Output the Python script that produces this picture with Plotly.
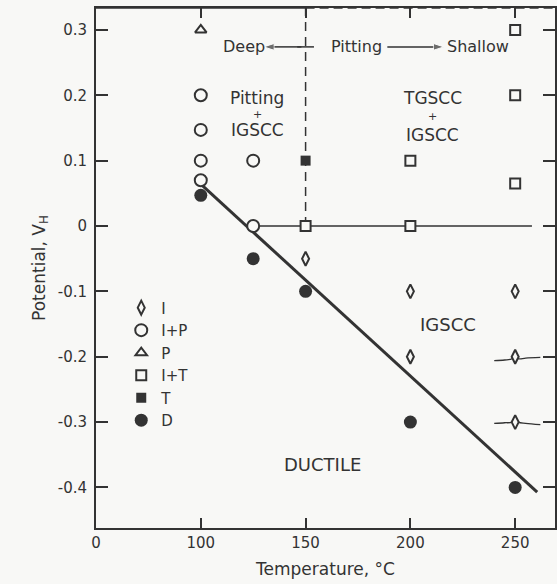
import plotly.graph_objects as go

# ---- data ----
I_x = [150, 200, 200, 250, 250, 250]
I_y = [-0.05, -0.10, -0.20, -0.10, -0.20, -0.30]
IP_x = [100, 100, 100, 100, 125, 125]
IP_y = [0.20, 0.147, 0.10, 0.07, 0.10, 0.0]
P_x = [100]
P_y = [0.30]
IT_x = [150, 200, 200, 250, 250, 250]
IT_y = [0.0, 0.10, 0.0, 0.30, 0.20, 0.065]
T_x = [150]
T_y = [0.10]
D_x = [100, 125, 150, 200, 250]
D_y = [0.047, -0.05, -0.10, -0.30, -0.40]

# boundary lines
ductile_x = [100, 260.5]
ductile_y = [0.064, -0.407]
tg_x = [125, 258]
tg_y = [0.0, 0.0]
pit_x = [150, 150]
pit_y = [0.0, 0.334]
wig1_x = [240, 245, 248.5, 250, 251.5, 255, 262]
wig1_y = [-0.206, -0.205, -0.203, -0.196, -0.203, -0.202, -0.201]
wig2_x = [240, 245, 248.5, 250, 251.5, 255, 262]
wig2_y = [-0.302, -0.301, -0.300, -0.293, -0.300, -0.302, -0.304]

# header arrows (tail -> head)
arrow_left_x = [148, 130]
arrow_right_x = [189, 216]
arrow_y = [0.274, 0.274]
crossbar_x = [146, 154]

# axis: broken axis, "0" drawn at position 50
tick_vals = [50, 100, 150, 200, 250]
tick_text = ["0", "100", "150", "200", "250"]
ytick_vals = [0.3, 0.2, 0.1, 0.0, -0.1, -0.2, -0.3, -0.4]
ytick_text = ["0.3", "0.2", "0.1", "0", "-0.1", "-0.2", "-0.3", "-0.4"]

INK = "#333333"
FONT = "DejaVu Sans"
bg = "#f8f8f6"

fig = go.Figure()

def line(xs, ys, width=1.5, dash="solid", shape="linear"):
    fig.add_trace(go.Scatter(x=xs, y=ys, mode="lines",
                             line=dict(color=INK, width=width, dash=dash, shape=shape),
                             showlegend=False, hoverinfo="skip"))

line(ductile_x, ductile_y, width=3)
line(tg_x, tg_y, width=1.5)
line(pit_x, pit_y, width=1.5, dash="9px,6px")
line(wig1_x, wig1_y, width=1.3, shape="spline")
line(wig2_x, wig2_y, width=1.3, shape="spline")
line(crossbar_x, arrow_y, width=1.5)
for ax_ in (arrow_left_x, arrow_right_x):
    fig.add_trace(go.Scatter(x=ax_, y=arrow_y, mode="lines+markers",
                             line=dict(color=INK, width=1.5),
                             marker=dict(symbol="arrow", size=[0, 11], angleref="previous", color=INK),
                             showlegend=False, hoverinfo="skip"))

series = [
    ("I", I_x, I_y, "diamond-tall", False, 10),
    ("I+P", IP_x, IP_y, "circle", False, 12),
    ("P", P_x, P_y, "triangle-up", False, 10),
    ("I+T", IT_x, IT_y, "square", False, 10),
    ("T", T_x, T_y, "square", True, 10),
    ("D", D_x, D_y, "circle", True, 13),
]
for name, xs, ys, sym, filled, sz in series:
    fig.add_trace(go.Scatter(
        x=xs, y=ys, mode="markers", name=name,
        marker=dict(symbol=sym, size=sz,
                    color=INK if filled else bg,
                    line=dict(color=INK, width=2 if not filled else 0)),
    ))

ann = []
def txt(x, y, s, size=19):
    ann.append(dict(x=x, y=y, xref="x", yref="y", text=s, showarrow=False,
                    font=dict(family=FONT, size=size, color=INK)))

txt(120.5, 0.274, "Deep", 16)
txt(174.3, 0.274, "Pitting", 16)
txt(232.4, 0.274, "Shallow", 16)
txt(127, 0.196, "Pitting", 17)
txt(127, 0.171, "+", 11)
txt(127, 0.147, "IGSCC", 17)
txt(210.5, 0.196, "TGSCC", 17)
txt(210.5, 0.168, "+", 11)
txt(210.5, 0.139, "IGSCC", 17)
txt(218, -0.151, "IGSCC", 18)
txt(158, -0.365, "DUCTILE", 18)

shapes = [
    dict(type="line", xref="x", yref="paper", x0=50, x1=150, y0=1, y1=1,
         line=dict(color=INK, width=1.5)),
    dict(type="line", xref="x", yref="paper", x0=150, x1=269, y0=1, y1=1,
         line=dict(color=INK, width=1.3, dash="9px,5px")),
]

fig.update_layout(
    width=557, height=584,
    margin=dict(l=96, r=0, t=8, b=56),
    paper_bgcolor=bg, plot_bgcolor=bg,
    font=dict(family=FONT, color=INK, size=14),
    annotations=ann, shapes=shapes,
    showlegend=True,
    legend=dict(x=0.055, y=0.455, xanchor="left", yanchor="top", bgcolor="rgba(0,0,0,0)",
                font=dict(family=FONT, size=15, color=INK), tracegroupgap=0, itemwidth=30),
)
fig.update_xaxes(range=[50, 269], tickvals=tick_vals, ticktext=tick_text,
                 showline=True, linecolor=INK, linewidth=2, mirror="ticks",
                 ticks="inside", ticklen=10, tickwidth=1.5, tickcolor=INK,
                 showgrid=False, zeroline=False,
                 tickfont=dict(family=FONT, size=15, color=INK),
                 title=dict(text="Temperature, °C", font=dict(family=FONT, size=17, color=INK), standoff=12))
fig.update_yaxes(range=[-0.462, 0.3335], tickvals=ytick_vals, ticktext=ytick_text,
                 showline=True, linecolor=INK, linewidth=2, mirror="ticks",
                 ticks="inside", ticklen=12, tickwidth=1.5, tickcolor=INK,
                 showgrid=False, zeroline=False, ticklabelstandoff=4,
                 tickfont=dict(family=FONT, size=15, color=INK),
                 title=dict(text="Potential, V<sub>H</sub>", font=dict(family=FONT, size=17, color=INK), standoff=8))

fig.write_html("out.html")
